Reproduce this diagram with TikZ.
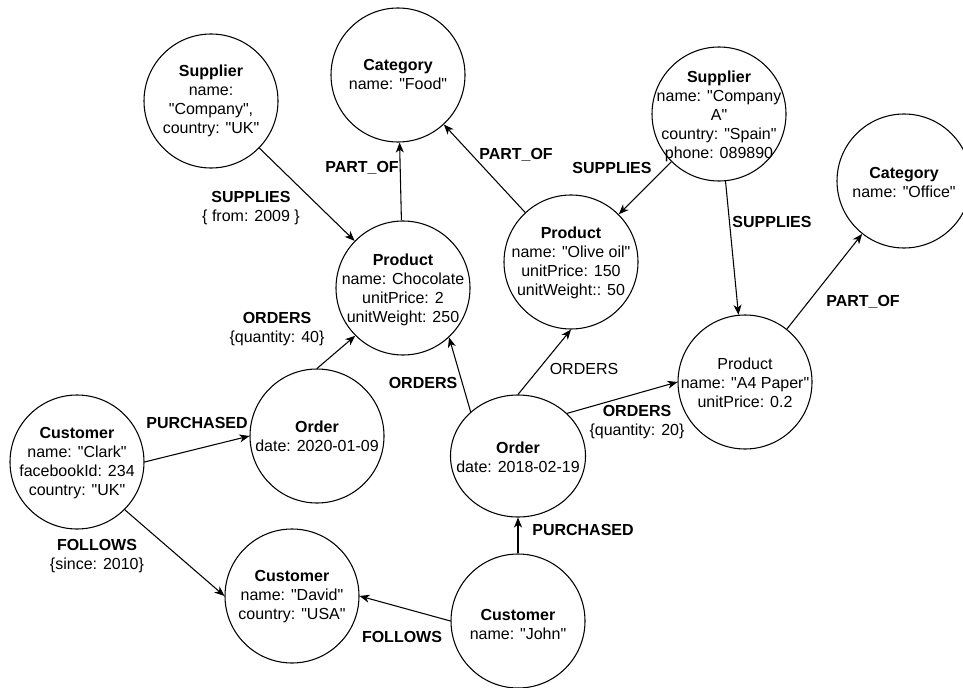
\documentclass[tikz,border=0pt]{standalone}
\usepackage{fontspec}
\setmainfont{Liberation Sans}[Ligatures=TeXOff]
\usetikzlibrary{arrows.meta,shapes.geometric}
\begin{document}
\begin{tikzpicture}[x=0.75pt,y=-0.75pt,
  circ/.style={circle,draw,line width=0.8pt,minimum size=100.5pt,inner sep=0pt},
  oval/.style={ellipse,draw,line width=0.8pt,minimum width=101.25pt,minimum height=91.5pt,inner sep=0pt},
  txt/.style={align=center,inner sep=0pt,font=\fontsize{12}{14.25}\selectfont},
  lbl/.style={align=center,inner sep=0pt,font=\fontsize{12}{14.25}\selectfont},
  conn/.style={line width=0.8pt,-{Stealth[length=7.5pt,width=6pt,inset=2.2pt]}}]
\useasboundingbox (0,0) rectangle (963,688);
% nodes
\node[circ] (supUK) at (211,101) {};
\node[txt] (supUKt) at (supUK) {\textbf{Supplier}\\name:\\"Company",\\country: "UK"};
\node[circ] (food) at (398,75) {};
\node[txt] (foodt) at (398,74) {\textbf{Category}\\name: "Food"};
\node[circ] (choc) at (403,288) {};
\node[txt] (choct) at (403,290) {\textbf{Product}\\name: Chocolate\\unitPrice: 2\\unitWeight: 250};
\node[circ] (supA) at (719,114) {};
\node[txt] (supAt) at (719,116) {\textbf{Supplier}\\name: "Company\\A"\\country: "Spain"\\phone: 089890};
\node[circ] (office) at (904,181) {};
\node[txt] (officet) at (904,182) {\textbf{Category}\\name: "Office"};
\node[circ] (olive) at (571,262) {};
\node[txt] (olivet) at (571,263) {\textbf{Product}\\name: "Olive oil"\\unitPrice: 150\\unitWeight:: 50};
\node[circ] (a4) at (745,382) {};
\node[txt] (a4t) at (745,383) {Product\\name: "A4 Paper"\\unitPrice: 0.2};
\node[circ] (ord20) at (317,436) {};
\node[txt] (ord20t) at (317,436) {\textbf{Order}\\date: 2020-01-09};
\node[oval] (ord18) at (518,456) {};
\node[txt] (ord18t) at (518,457) {\textbf{Order}\\date: 2018-02-19};
\node[circ] (clark) at (77,462) {};
\node[txt] (clarkt) at (77,463) {\textbf{Customer}\\name: "Clark"\\facebookId: 234\\country: "UK"};
\node[circ] (david) at (292,596) {};
\node[txt] (davidt) at (292,597) {\textbf{Customer}\\name: "David"\\country: "USA"};
\node[circ] (john) at (518,621) {};
\node[txt] (johnt) at (518,624) {\textbf{Customer}\\name: "John"};
% connectors
\draw[conn] (supUK) -- (choc);
\draw[conn] (choc) -- (food);
\draw[conn] (olive) -- (food);
\draw[conn] (supA) -- (olive);
\draw[conn] (supA) -- (a4);
\draw[conn] (a4) -- (office);
\draw[conn] (ord20.north) -- (choc.225);
\draw[conn] (ord18.137) -- (choc.313);
\draw[conn] (ord18.north) -- (olive.south);
\draw[conn] (ord18.41) -- (a4.west);
\draw[conn] (clark.east) -- (ord20.west);
\draw[conn] (clark.-45) -- (david.west);
\draw[conn] (john.west) -- (david.east);
\draw[conn] (john.north) -- (ord18.south);
% labels
\node[lbl] (l1) at (251,208) {\textbf{SUPPLIES}\\\{ from: 2009 \}};
\node[lbl] (l2) at (362,168) {\textbf{PART\_OF}};
\node[lbl] (l3) at (516,155) {\textbf{PART\_OF}};
\node[lbl] (l4) at (612,168) {\textbf{SUPPLIES}};
\node[lbl] (l5) at (772,222) {\textbf{SUPPLIES}};
\node[lbl] (l6) at (863,302) {\textbf{PART\_OF}};
\node[lbl] (l7) at (277,329) {\textbf{ORDERS}\\\{quantity: 40\}};
\node[lbl] (l8) at (423,383) {\textbf{ORDERS}};
\node[lbl] (l9) at (584,369) {ORDERS};
\node[lbl] (l10) at (637,422) {\textbf{ORDERS}\\\{quantity: 20\}};
\node[lbl] (l11) at (197,423) {\textbf{PURCHASED}};
\node[lbl] (l12) at (97,556) {\textbf{FOLLOWS}\\\{since: 2010\}};
\node[lbl] (l13) at (402,637) {\textbf{FOLLOWS}};
\node[lbl] (l14) at (583,530) {\textbf{PURCHASED}};
\end{tikzpicture}
\end{document}
